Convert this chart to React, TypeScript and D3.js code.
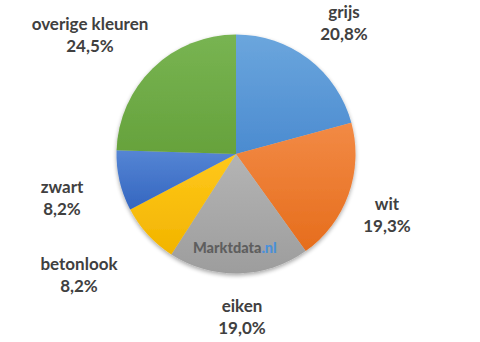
import React from "react";
import * as d3 from "d3";

const categories = ["grijs", "wit", "eiken", "betonlook", "zwart", "overige kleuren"];
const values = [20.8, 19.3, 19.0, 8.2, 8.2, 24.5];
const valueLabels = ["20,8%", "19,3%", "19,0%", "8,2%", "8,2%", "24,5%"];
const topColors = ["#6ba6dd", "#f28a45", "#b4b4b4", "#ffc81a", "#5585d4", "#78b452"];
const bottomColors = ["#4b8bd0", "#e66d1c", "#9d9d9d", "#f2b400", "#3466c0", "#66a23c"];
const labelPos: [number, number][] = [
  [344, 18],
  [387, 210],
  [242, 312],
  [79, 270],
  [62, 193],
  [90, 30],
];

export default function App() {
  const width = 480;
  const height = 342;
  const cx = 236;
  const cy = 154;
  const r = 119.5;
  const pie = d3.pie<number>().sort(null).value((d) => d);
  const arcs = pie(values);
  const arc = d3.arc<d3.PieArcDatum<number>>().innerRadius(0).outerRadius(r);
  return (
    <svg
      width={width}
      height={height}
      style={{ position: "absolute", left: 0, top: 0, background: "#fff" }}
    >
      <defs>
        {arcs.map((a, i) => (
          <linearGradient key={i} id={`g${i}`} x1="0" y1="0" x2="0" y2="1">
            <stop offset="0" stopColor={topColors[i]} />
            <stop offset="1" stopColor={bottomColors[i]} />
          </linearGradient>
        ))}
        <filter id="shadow" x="-20%" y="-20%" width="140%" height="140%">
          <feGaussianBlur in="SourceAlpha" stdDeviation="2" />
          <feOffset dx="0" dy="2" result="b" />
          <feComponentTransfer>
            <feFuncA type="linear" slope="0.35" />
          </feComponentTransfer>
          <feMerge>
            <feMergeNode />
            <feMergeNode in="SourceGraphic" />
          </feMerge>
        </filter>
      </defs>
      <g transform={`translate(${cx},${cy})`} filter="url(#shadow)">
        {arcs.map((a, i) => (
          <path key={i} d={arc(a) ?? ""} fill={`url(#g${i})`} />
        ))}
      </g>
      <text
        x={193}
        y={253}
        fontFamily="Lato, 'Open Sans', sans-serif"
        fontWeight="900"
        fontSize={14.5}
        fill="#5e5e5e"
      >
        Marktdata<tspan fill="#4a90d9">.nl</tspan>
      </text>
      {categories.map((c, i) => (
        <text
          key={c}
          textAnchor="middle"
          fontFamily="Lato, 'Open Sans', sans-serif"
          fontWeight="bold"
          fontSize={17}
          fill="#404040"
        >
          <tspan x={labelPos[i][0]} y={labelPos[i][1]}>{c}</tspan>
          <tspan x={labelPos[i][0]} y={labelPos[i][1] + 22}>{valueLabels[i]}</tspan>
        </text>
      ))}
    </svg>
  );
}
